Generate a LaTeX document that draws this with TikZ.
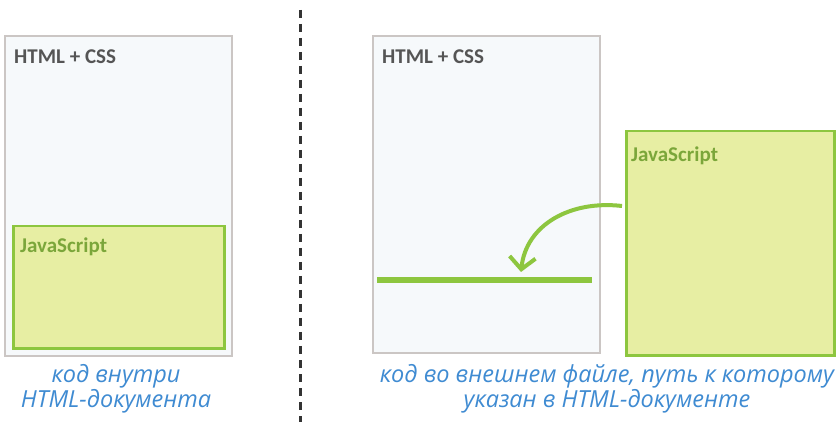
\documentclass[tikz,border=0pt]{standalone}
\usepackage{fontspec}
\setmainfont{Carlito}
\newfontfamily\handfont{Open Sans}
\usetikzlibrary{arrows.meta}
\definecolor{boxgray}{HTML}{CBC6C4}
\definecolor{boxfill}{HTML}{F6F9FB}
\definecolor{jsfill}{HTML}{E7EEA3}
\definecolor{jsline}{HTML}{8DC63F}
\definecolor{jstext}{HTML}{7BA63A}
\definecolor{labgray}{HTML}{555555}
\definecolor{capblue}{HTML}{3F8BD2}
\definecolor{dashgray}{HTML}{333333}
\tikzset{
  htmlbox/.style={draw=boxgray, fill=boxfill, line width=2pt, anchor=north west, inner sep=0pt},
  jsbox/.style={draw=jsline, fill=jsfill, line width=2.5pt, anchor=north west, inner sep=0pt},
  boxlabel/.style={font=\bfseries\fontsize{21}{24}\selectfont, text=labgray, anchor=north west, inner sep=0pt},
  jslabel/.style={font=\bfseries\fontsize{21}{24}\selectfont, text=jstext, anchor=north west, inner sep=0pt},
  caption/.style={font=\handfont\itshape\fontsize{23.5}{25}\selectfont, text=capblue, align=center, inner sep=0pt},
  divider/.style={draw=dashgray, line width=3pt, dash pattern=on 8pt off 6pt},
  greenbar/.style={draw=jsline, line width=6pt},
  jsarrow/.style={draw=jsline, line width=4pt, -{Straight Barb[length=12pt,width=26pt,line width=4pt]}}
}
\begin{document}
\begin{tikzpicture}[x=1pt,y=-1pt]
\useasboundingbox[fill=white] (0,0) rectangle (836,422);
% divider
\coordinate (d1) at (300,10);
\coordinate (d2) at (300,422);
\draw[divider] (d1) -- (d2);
% left panel
\node[htmlbox, minimum width=227pt, minimum height=320pt] (hL) at (4,35) {};
\node[boxlabel] (hLt) at (14,50) {HTML + CSS};
\node[jsbox, minimum width=211pt, minimum height=122pt] (jL) at (12,225) {};
\node[jslabel] (jLt) at (20,238) {JavaScript};
\node[caption] (cL) at (116,389) {код внутри\\HTML-документа};
% right panel
\node[htmlbox, minimum width=227pt, minimum height=317pt] (hR) at (372,35) {};
\node[boxlabel] (hRt) at (382,50) {HTML + CSS};
\coordinate (b1) at (377,280);
\coordinate (b2) at (592,280);
\draw[greenbar] (b1) -- (b2);
\node[jsbox, minimum width=208pt, minimum height=224pt] (jR) at (625,130) {};
\node[jslabel] (jRt) at (631,147) {JavaScript};
\coordinate (a1) at (622,206);
\coordinate (a2) at (521,272);
\draw[jsarrow] (a1) .. controls (570,200) and (526,225) .. (a2);
\node[caption] (cR) at (607,389) {код во внешнем файле, путь к которому\\указан в HTML-документе};
\end{tikzpicture}
\end{document}
